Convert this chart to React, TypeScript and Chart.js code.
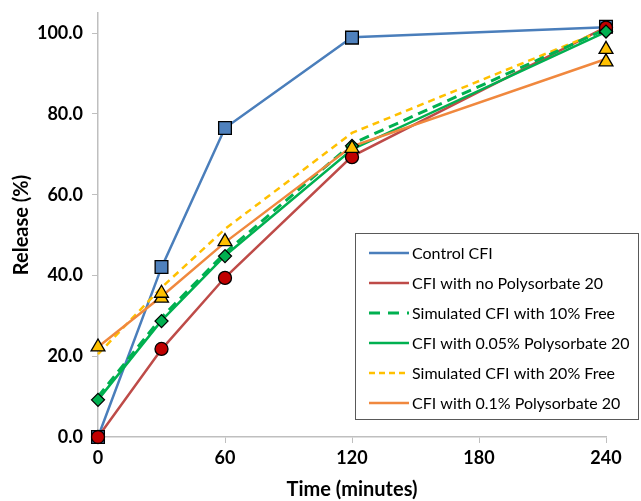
import React, { useEffect, useRef } from 'react';
import { Chart, registerables } from 'chart.js';

Chart.register(...registerables);

// ---- data ----
const times = [0, 30, 60, 120, 240];
const xTickValues = [0, 60, 120, 180, 240];
const yTickValues = [0, 20, 40, 60, 80, 100];

const legendLabels = [
  'Control CFI',
  'CFI with no Polysorbate 20',
  'Simulated CFI with 10% Free',
  'CFI with 0.05% Polysorbate 20',
  'Simulated CFI with 20% Free',
  'CFI with 0.1% Polysorbate 20',
];

const controlLine = [0, 42, 76.5, 99, 101.5];
const noPsLine = [0, 21.7, 39.5, 69.5, 101.5];
const sim10Line = [10, 29.6, 45.6, 72.6, 101];
const ps005Line = [9.2, 28.8, 44.9, 71.2, 100.3];
const sim20Line = [20.5, 37, 51.5, 75.3, 101];
const ps01Line = [22.3, 34.8, 48.2, 72, 93.6];

const controlPts = [0, 42.1, 76.5, 98.9, 101.6];
const noPsPts = [0, 21.8, 39.4, 69.3, 101.4];
const ps005Pts = [9.2, 28.7, 44.8, 72.1, 100.4];
const ps01PtsA = [22.3, 35.6, 48.4, 71.5, 96];
const ps01PtsB = [null, 34.4, null, null, 92.9];

const FONT = 'Lato, "Open Sans", sans-serif';

const toXY = (vals: (number | null)[]) =>
  times.map((t, i) => ({ x: t, y: vals[i] }));

const floatLegend = {
  id: 'floatLegend',
  afterDraw(chart: any) {
    const ctx = chart.ctx;
    const items = chart.data.datasets.filter((d: any) => d.inLegend);
    const bx = 355.5, by = 233.5, bw = 283, bh = 186;
    ctx.save();
    ctx.fillStyle = '#ffffff';
    ctx.fillRect(bx, by, bw, bh);
    ctx.strokeStyle = '#595959';
    ctx.lineWidth = 1;
    ctx.strokeRect(bx, by, bw, bh);
    items.forEach((d: any, i: number) => {
      const y = 253 + i * 30;
      ctx.beginPath();
      ctx.setLineDash(d.legendDash || []);
      ctx.strokeStyle = d.borderColor;
      ctx.lineWidth = d.borderWidth;
      ctx.moveTo(369, y);
      ctx.lineTo(409, y);
      ctx.stroke();
      ctx.setLineDash([]);
      ctx.fillStyle = '#000000';
      ctx.font = `16px ${FONT}`;
      ctx.textBaseline = 'middle';
      ctx.textAlign = 'left';
      ctx.fillText(d.label, 412, y + 1);
    });
    ctx.restore();
  },
};

export default function App() {
  const ref = useRef<HTMLCanvasElement | null>(null);

  useEffect(() => {
    document.body.style.margin = '0';
    if (!ref.current) return;

    const lineDs = (label: string, vals: number[], color: string, order: number, extra: any = {}) => ({
      label,
      data: toXY(vals),
      borderColor: color,
      backgroundColor: color,
      borderWidth: 2.5,
      pointRadius: 0,
      pointHoverRadius: 0,
      tension: 0,
      clip: false,
      order,
      inLegend: true,
      ...extra,
    });

    const markerDs = (label: string, vals: (number | null)[], fill: string, style: string, radius: number, order: number) => ({
      label,
      data: toXY(vals),
      showLine: false,
      pointStyle: style,
      pointRadius: radius,
      pointBackgroundColor: fill,
      pointBorderColor: '#000000',
      pointBorderWidth: 1.3,
      borderColor: fill,
      backgroundColor: fill,
      clip: false,
      order,
      inLegend: false,
    });

    const chart = new Chart(ref.current, {
      type: 'line',
      data: {
        datasets: [
          lineDs(legendLabels[0], controlLine, '#4a7ebb', 9),
          lineDs(legendLabels[1], noPsLine, '#be4b48', 8),
          lineDs(legendLabels[2], sim10Line, '#00b050', 6, {
            borderDash: [10, 6], borderWidth: 3, legendDash: [11, 8],
          }),
          lineDs(legendLabels[3], ps005Line, '#00b050', 5),
          lineDs(legendLabels[4], sim20Line, '#ffc000', 7, {
            borderDash: [7, 5], legendDash: [6, 4],
          }),
          lineDs(legendLabels[5], ps01Line, '#f0883e', 4),
          markerDs('Control CFI data', controlPts, '#4f81bd', 'rect', 9, 3),
          markerDs('No Polysorbate data', noPsPts, '#c00000', 'circle', 6.5, 2),
          markerDs('0.05% data', ps005Pts, '#00b050', 'rectRot', 6.5, 1),
          markerDs('0.1% data A', ps01PtsA, '#ffc000', 'triangle', 8, 0),
          markerDs('0.1% data B', ps01PtsB, '#ffc000', 'triangle', 8, 0),
        ] as any,
      },
      options: {
        responsive: false,
        animation: false,
        events: [],
        layout: { padding: { top: 13, right: 35, left: 0, bottom: 0 } },
        plugins: {
          legend: { display: false },
          tooltip: { enabled: false },
        },
        scales: {
          x: {
            type: 'linear',
            min: 0,
            max: 240,
            afterBuildTicks: (scale: any) => {
              scale.ticks = xTickValues.map((v) => ({ value: v }));
            },
            afterFit: (scale: any) => {
              scale.height = 64;
              scale.paddingLeft = 0;
              scale.paddingRight = 0;
              scale.paddingTop = 0;
              scale.paddingBottom = 0;
            },
            ticks: {
              color: '#000000',
              font: { family: FONT, size: 18, weight: 'bold' },
              padding: 4,
              maxRotation: 0,
              callback: (v: any) => String(v),
            },
            grid: {
              drawOnChartArea: false,
              drawTicks: true,
              tickLength: 6,
              color: '#bfbfbf',
            },
            border: { color: '#bfbfbf', width: 1.5 },
            title: {
              display: true,
              text: 'Time (minutes)',
              color: '#000000',
              font: { family: FONT, size: 20, weight: 'bold', lineHeight: 1.0 },
              padding: { top: 0, bottom: 1 },
            },
          },
          y: {
            type: 'linear',
            min: 0,
            max: 105,
            afterBuildTicks: (scale: any) => {
              scale.ticks = yTickValues.map((v) => ({ value: v }));
            },
            afterFit: (scale: any) => {
              scale.width = 98;
              scale.paddingLeft = 0;
              scale.paddingRight = 0;
              scale.paddingTop = 0;
              scale.paddingBottom = 0;
            },
            ticks: {
              color: '#000000',
              font: { family: FONT, size: 18, weight: 'bold' },
              padding: 9,
              callback: (v: any) => Number(v).toFixed(1),
            },
            grid: {
              drawOnChartArea: false,
              drawTicks: true,
              tickLength: 6,
              color: '#bfbfbf',
            },
            border: { color: '#bfbfbf', width: 1.5 },
            title: {
              display: true,
              text: 'Release (%)',
              color: '#000000',
              font: { family: FONT, size: 20, weight: 'bold', lineHeight: 1.0 },
              padding: { top: 12, bottom: 0 },
            },
          },
        },
      } as any,
      plugins: [floatLegend],
    });

    return () => chart.destroy();
  }, []);

  return (
    <div style={{ position: 'absolute', left: 0, top: 0, width: 641, height: 501 }}>
      <canvas ref={ref} width={641} height={501} />
    </div>
  );
}
